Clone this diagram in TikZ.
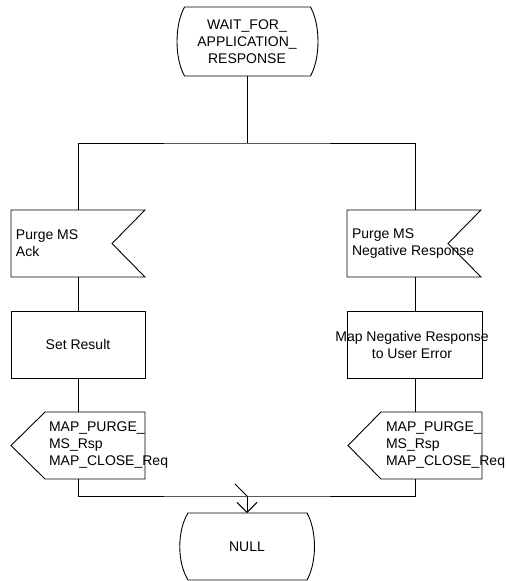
\documentclass[tikz,border=0pt]{standalone}
\usepackage{fontspec}
\setmainfont{Liberation Sans}
\usetikzlibrary{arrows.meta}
\begin{document}
\begin{tikzpicture}[x=1pt,y=-1pt,line width=0.9pt,
  every node/.style={font=\fontsize{14}{17}\selectfont, inner sep=0pt, outer sep=0pt},
  frame/.style={minimum width=#1, minimum height=67pt},
  frame/.default=134pt,
  lbl/.style={align=left, anchor=west},
  ctr/.style={align=center}]
\useasboundingbox (0,0) rectangle (506,581);

% shapes
\draw (184.5,7) -- (310.5,7) .. controls (320.5,25) and (320.5,58) .. (310.5,76)
      -- (184.5,76) .. controls (174.5,58) and (174.5,25) .. (184.5,7) -- cycle;
\draw (11,210) -- (145,210) -- (112,243.5) -- (145,277) -- (11,277) -- cycle;
\draw (347,210) -- (481,210) -- (448,243.5) -- (481,277) -- (347,277) -- cycle;
\draw (11,311) rectangle (145,378);
\draw (347,311) rectangle (482,378);
\draw (45,412) -- (145,412) -- (145,479) -- (45,479) -- (11,445.5) -- cycle;
\draw (381,412) -- (482,412) -- (482,479) -- (381,479) -- (348,445.5) -- cycle;
\draw (188,513) -- (307,513) .. controls (317,531) and (317,562) .. (307,580)
      -- (188,580) .. controls (177,562) and (177,531) .. (188,513) -- cycle;

% frame nodes (for connectors)
\node[frame=126pt, minimum height=69pt] (wait) at (247,41.5) {};
\node[frame] (in1) at (78,243.5) {};
\node[frame] (in2) at (415,243.5) {};
\node[frame] (p1) at (78,344.5) {};
\node[frame] (p2) at (415,344.5) {};
\node[frame] (o1) at (78,445.5) {};
\node[frame] (o2) at (415,445.5) {};
\node[frame=119pt] (null) at (247,546.5) {};

% texts
\node[ctr] (twait) at (247,41.5) {WAIT\_FOR\_\\APPLICATION\_\\RESPONSE};
\node[lbl] (tin1) at (16,243.5) {Purge MS\\Ack};
\node[lbl] (tin2) at (352,243.5) {Purge MS\\Negative Response};
\node[ctr] (tp1) at (78,344.5) {Set Result};
\node[ctr] (tp2) at (412,344.5) {Map Negative Response\\to User Error};
\node[lbl] (to1) at (49,445.5) {MAP\_PURGE\_\\MS\_Rsp\\MAP\_CLOSE\_Req};
\node[lbl] (to2) at (386,445.5) {MAP\_PURGE\_\\MS\_Rsp\\MAP\_CLOSE\_Req};
\node[ctr] (tnull) at (247,546.5) {NULL};

% connectors
\coordinate (split) at (247,143);
\coordinate (merge) at (247,496);
\draw (wait.south) -- (split);
\draw (in1.north) |- (split) -| (in2.north);
\draw (in1.south) -- (p1.north);
\draw (in2.south) -- (p2.north);
\draw (p1.south) -- (o1.north);
\draw (p2.south) -- (o2.north);
\draw (o1.south) |- (merge) -| (o2.south);
\draw[-{Straight Barb[length=10pt,width=20pt]}] (merge) -- (null.north);
\draw (merge) -- ++(-12,-12);
\end{tikzpicture}
\end{document}
